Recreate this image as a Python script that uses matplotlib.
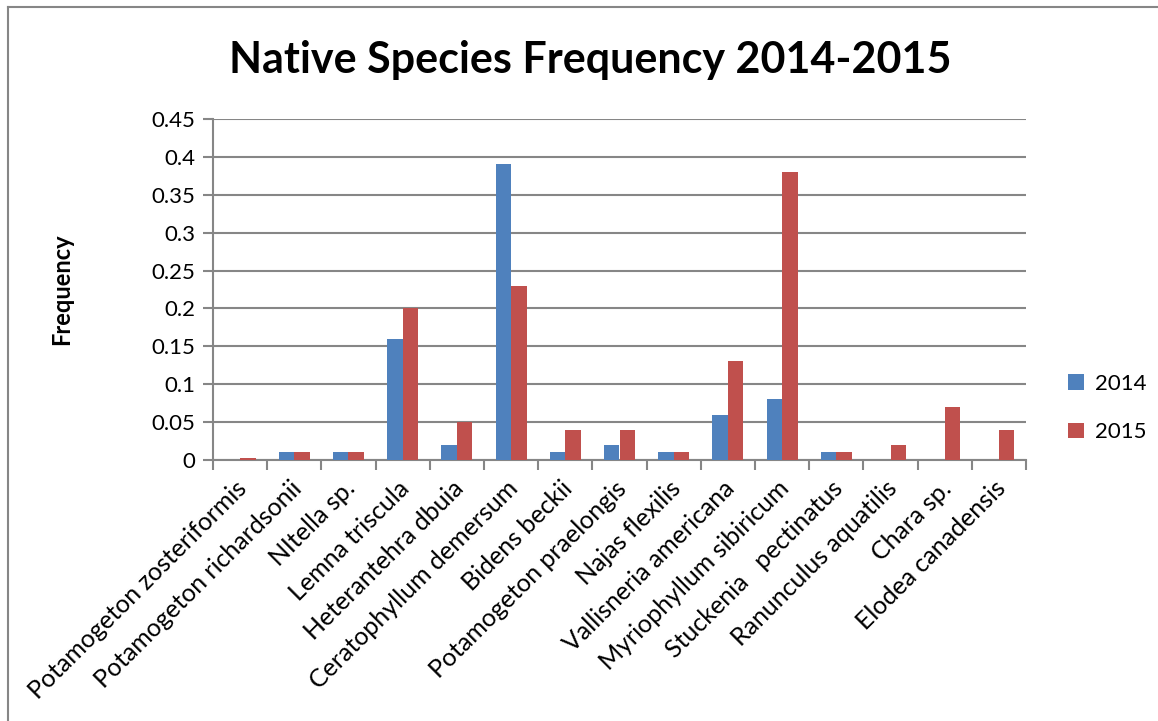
import matplotlib
matplotlib.use("Agg")
import matplotlib.pyplot as plt
from matplotlib.lines import Line2D
from matplotlib.transforms import ScaledTranslation
import numpy as np

plt.rcParams['font.family'] = ['Lato', 'DejaVu Sans']

species = [
    "Potamogeton zosteriformis", "Potamogeton richardsonii", "NItella sp.",
    "Lemna triscula", "Heterantehra dbuia", "Ceratophyllum demersum",
    "Bidens beckii", "Potamogeton praelongis", "Najas flexilis",
    "Vallisneria americana", "Myriophyllum sibiricum", "Stuckenia   pectinatus",
    "Ranunculus aquatilis", "Chara sp.", "Elodea canadensis",
]
freq_2014 = [0.0, 0.01, 0.01, 0.16, 0.02, 0.39, 0.01, 0.02, 0.01, 0.06, 0.08, 0.01, 0.0, 0.0, 0.0]
freq_2015 = [0.003, 0.01, 0.01, 0.20, 0.05, 0.23, 0.04, 0.04, 0.01, 0.13, 0.38, 0.01, 0.02, 0.07, 0.04]
y_ticks = [0, 0.05, 0.1, 0.15, 0.2, 0.25, 0.3, 0.35, 0.4, 0.45]
y_tick_labels = ["0", "0.05", "0.1", "0.15", "0.2", "0.25", "0.3", "0.35", "0.4", "0.45"]

blue = "#4F81BD"
red = "#C0504D"
grid_gray = "#868686"

fig = plt.figure(figsize=(11.58, 7.21), dpi=100)
ax = fig.add_axes([213 / 1158, 1 - 460 / 721, 813 / 1158, 341 / 721])

x = np.arange(len(species))
w = 1 / 3.5
ax.bar(x - w / 2, freq_2014, width=w, color=blue, label="2014", zorder=3)
ax.bar(x + w / 2, freq_2015, width=w, color=red, label="2015", zorder=3)

ax.set_xlim(-0.5, len(species) - 0.5)
ax.set_ylim(0, 0.45)
ax.set_yticks(y_ticks)
ax.set_yticklabels(y_tick_labels, fontsize=16)
ax.yaxis.grid(True, color=grid_gray, linewidth=1.5, zorder=0)
ax.set_axisbelow(True)

# category boundary ticks on the x axis
ax.set_xticks(np.arange(len(species) + 1) - 0.5)
ax.set_xticklabels([])
ax.set_xticks(x, minor=True)
ax.set_xticklabels(species, minor=True, rotation=45, ha="right", va="top",
                   rotation_mode="anchor", fontsize=18)
ax.tick_params(axis="x", which="minor", length=0, pad=12)
ax.tick_params(axis="x", which="major", length=7, width=1.5, color=grid_gray)
ax.tick_params(axis="y", length=7, width=1.5, color=grid_gray, pad=6)

# nudge the rotated category labels slightly left
shift = ScaledTranslation(-5 / 100, 0, fig.dpi_scale_trans)
for lbl in ax.get_xticklabels(minor=True):
    lbl.set_transform(lbl.get_transform() + shift)

for side in ("top", "right"):
    ax.spines[side].set_visible(False)
for side in ("left", "bottom"):
    ax.spines[side].set_color(grid_gray)
    ax.spines[side].set_linewidth(1.5)

fig.text(590 / 1158, 1 - 60 / 721, "Native Species Frequency 2014-2015",
         ha="center", va="center", fontsize=31, fontweight="bold")
fig.text(62 / 1158, 1 - 289 / 721, "Frequency", rotation=90, ha="center",
         va="center", fontsize=17, fontweight="bold")

leg = fig.legend(loc="center left", bbox_to_anchor=(1068 / 1158, 1 - 408 / 721),
                 frameon=False, fontsize=16, handlelength=0.7, handleheight=0.7,
                 labelspacing=1.3, handletextpad=0.5, borderaxespad=0,
                 borderpad=0)

# chart frame
fig.add_artist(Line2D([8 / 1158, 8 / 1158], [0, 1 - 7 / 721],
                      color="#868686", linewidth=1.5, transform=fig.transFigure))
fig.add_artist(Line2D([8 / 1158, 1], [1 - 7 / 721, 1 - 7 / 721],
                      color="#868686", linewidth=1.5, transform=fig.transFigure))

fig.savefig("out.png", dpi=100)
